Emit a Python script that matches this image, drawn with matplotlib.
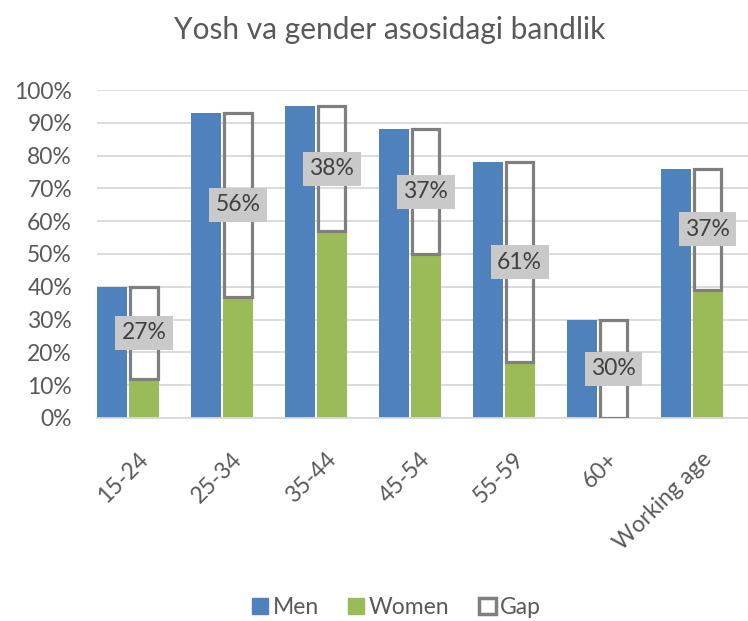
import matplotlib
matplotlib.use("Agg")
import matplotlib.pyplot as plt
from matplotlib.patches import Patch
from matplotlib.ticker import FuncFormatter
from matplotlib.transforms import ScaledTranslation
import numpy as np

categories = ["15-24", "25-34", "35-44", "45-54", "55-59", "60+", "Working age"]
men = [0.40, 0.93, 0.95, 0.88, 0.78, 0.30, 0.76]
women = [0.12, 0.37, 0.57, 0.50, 0.17, 0.00, 0.39]
gap_labels = ["27%", "56%", "38%", "37%", "61%", "30%", "37%"]

plt.rcParams['font.family'] = ['Lato', 'DejaVu Sans']

BLUE = "#4f81bd"
GREEN = "#9bbb59"
GAPC = "#7f7f7f"
TXT = "#595959"

fig = plt.figure(figsize=(7.48, 6.21), dpi=100)
ax = fig.add_axes([0.1297, 0.327, 0.8703, 0.528])

x = np.arange(len(categories))
w = 0.32
ax.bar(x - w/2 - 0.01, men, width=w, color=BLUE, zorder=2)
ax.bar(x + w/2 + 0.01, women, width=w, color=GREEN, zorder=2)
gaps = [m - f for m, f in zip(men, women)]
ax.bar(x + w/2 + 0.01, gaps, width=w - 0.03, bottom=women, fill=False,
       edgecolor=GAPC, linewidth=2.3, zorder=3)
for xi, f, g, lab in zip(x, women, gaps, gap_labels):
    ax.text(xi + w/2 + 0.01, f + g/2, lab, ha='center', va='center',
            fontsize=16.5, color="#404040", zorder=4,
            bbox=dict(boxstyle='square,pad=0.28', facecolor="#c9c9c9", edgecolor='none'))

ax.set_ylim(0, 1.0)
ax.set_xlim(-0.33, 6.6)
ax.set_yticks(np.arange(0, 1.01, 0.1))
ax.yaxis.set_major_formatter(FuncFormatter(lambda v, p: f"{int(round(v*100))}%"))
ax.grid(axis='y', color="#d9d9d9", linewidth=1.3, zorder=0)
ax.set_axisbelow(True)
for s in ['top', 'right', 'left']:
    ax.spines[s].set_visible(False)
ax.spines['bottom'].set_color("#d9d9d9")
ax.spines['bottom'].set_linewidth(1.3)
ax.tick_params(axis='both', length=0, labelsize=16.5, colors=TXT)
ax.tick_params(axis='y', pad=18)
ax.tick_params(axis='x', pad=0)
ax.set_xticks(x)
ax.set_xticklabels(categories, rotation=45, ha='right', va='center', rotation_mode='anchor')
off = ScaledTranslation(0.17, -0.38, fig.dpi_scale_trans)
for lbl in ax.get_xticklabels():
    lbl.set_transform(lbl.get_transform() + off)

fig.text(0.521, 0.952, "Yosh va gender asosidagi bandlik", ha='center', va='center',
         fontsize=21.5, color=TXT)

handles = [Patch(facecolor=BLUE, edgecolor=BLUE),
           Patch(facecolor=GREEN, edgecolor=GREEN),
           Patch(facecolor='white', edgecolor=GAPC, linewidth=2.5)]
fig.legend(handles, ["Men", "Women", "Gap"], loc='center', bbox_to_anchor=(0.53, 0.021),
           ncol=3, frameon=False, fontsize=16.5, labelcolor=TXT, handlelength=0.7,
           handleheight=0.7, handletextpad=0.2, columnspacing=1.3)

fig.savefig("out.png", dpi=100)
